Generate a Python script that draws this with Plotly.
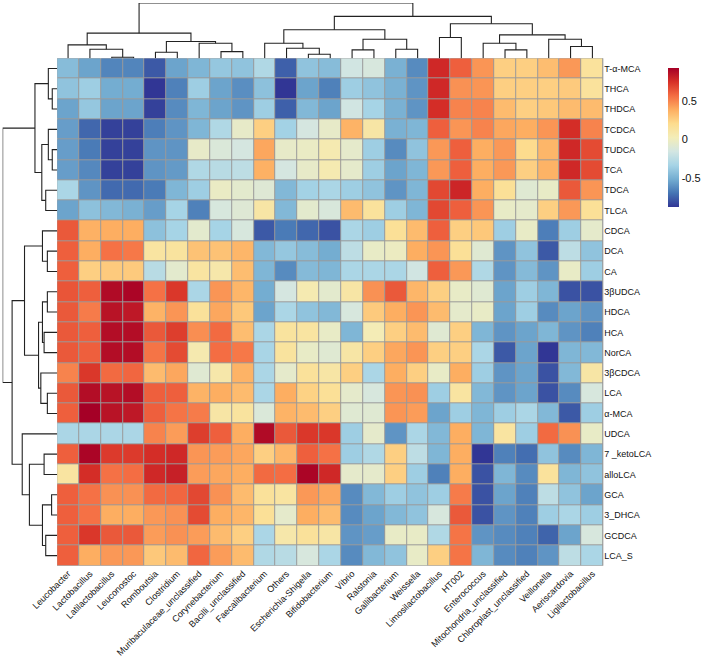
import plotly.graph_objects as go

# ---------------- data ----------------
col_labels = ["Leucobacter", "Lactobacillus", "Latilactobacillus", "Leuconostoc", "Romboutsia",
              "Clostridium", "Muribaculaceae_unclassified", "Corynebacterium", "Bacilli_unclassified",
              "Faecalibacterium", "Others", "Escherichia-Shigella", "Bifidobacterium", "Vibrio",
              "Ralstonia", "Gallibacterium", "Weissella", "Limosilactobacillus", "HT002",
              "Enterococcus", "Mitochondria_unclassified", "Chloroplast_unclassified", "Veillonella",
              "Aeriscardovia", "Ligilactobacillus"]

row_labels = ["T-α-MCA", "THCA", "THDCA", "TCDCA", "TUDCA", "TCA", "TDCA", "TLCA", "CDCA", "DCA",
              "CA", "3βUDCA", "HDCA", "HCA", "NorCA", "3βCDCA", "LCA", "α-MCA", "UDCA",
              "7 _ketoLCA", "alloLCA", "GCA", "3_DHCA", "GCDCA", "LCA_S"]

corr_T_a_MCA = [-0.45, -0.55, -0.65, -0.65, -0.78, -0.55, -0.48, -0.40, -0.42, -0.30, -0.76, -0.42, -0.45, -0.17, -0.14, -0.50, -0.63, 0.77, 0.60, 0.45, 0.25, 0.25, 0.32, 0.44, 0.14]
corr_THCA = [-0.42, -0.37, -0.52, -0.52, -0.88, -0.66, -0.37, -0.55, -0.62, -0.43, -0.88, -0.55, -0.66, -0.37, -0.42, -0.50, -0.60, 0.77, 0.46, 0.45, 0.25, 0.25, 0.25, 0.27, 0.14]
corr_THDCA = [-0.55, -0.40, -0.55, -0.55, -0.85, -0.63, -0.48, -0.55, -0.60, -0.37, -0.76, -0.47, -0.55, -0.17, -0.34, -0.50, -0.60, 0.75, 0.50, 0.50, 0.33, 0.25, 0.28, 0.33, 0.33]
corr_TCDCA = [-0.57, -0.74, -0.85, -0.85, -0.67, -0.60, -0.48, -0.30, -0.05, 0.25, -0.35, -0.15, -0.05, 0.36, 0.10, -0.50, -0.48, 0.60, 0.45, 0.50, 0.40, 0.38, 0.45, 0.75, 0.50]
corr_TUDCA = [-0.57, -0.68, -0.85, -0.85, -0.60, -0.60, -0.05, -0.12, -0.15, 0.40, -0.05, -0.03, 0.05, -0.06, -0.37, -0.63, -0.42, 0.44, 0.60, 0.38, 0.44, 0.20, 0.35, 0.77, 0.66]
corr_TCA = [-0.57, -0.64, -0.85, -0.85, -0.60, -0.58, -0.30, -0.27, -0.25, 0.37, -0.15, -0.05, 0.05, -0.06, -0.37, -0.55, -0.48, 0.44, 0.60, 0.38, 0.44, 0.25, 0.36, 0.77, 0.66]
corr_TDCA = [-0.32, -0.60, -0.73, -0.73, -0.68, -0.48, -0.37, -0.03, -0.07, -0.10, -0.47, -0.35, -0.32, -0.37, -0.42, -0.60, -0.48, 0.67, 0.78, 0.38, 0.16, -0.09, -0.04, 0.62, 0.45]
corr_TLCA = [-0.55, -0.43, -0.47, -0.50, -0.57, -0.34, -0.66, -0.14, -0.10, 0.10, -0.47, -0.07, -0.13, 0.33, 0.14, -0.37, -0.48, 0.67, 0.60, 0.45, -0.04, -0.06, 0.25, 0.44, 0.16]
corr_CDCA = [0.62, 0.37, 0.38, 0.38, -0.43, -0.34, -0.07, -0.34, -0.14, -0.78, -0.68, -0.74, -0.80, -0.32, -0.37, 0.16, 0.33, 0.60, 0.25, 0.28, -0.37, -0.04, -0.67, -0.37, -0.06]
corr_DCA = [0.60, 0.38, 0.55, 0.53, 0.12, 0.13, 0.30, 0.30, 0.35, -0.47, -0.40, -0.45, -0.52, -0.25, -0.04, -0.02, 0.38, 0.45, 0.16, -0.09, -0.60, -0.42, -0.78, -0.25, -0.42]
corr_CA = [0.60, 0.25, 0.27, 0.27, -0.27, -0.07, 0.12, 0.08, 0.32, -0.48, -0.63, -0.46, -0.48, -0.32, -0.32, -0.32, -0.17, 0.60, 0.44, -0.30, -0.60, -0.46, -0.60, -0.04, -0.37]
corr_3bUDCA = [0.63, 0.60, 0.88, 0.90, 0.55, 0.72, -0.32, 0.45, 0.35, -0.52, -0.15, 0.05, -0.07, 0.10, 0.46, 0.62, 0.35, 0.25, -0.04, -0.09, -0.55, -0.37, -0.48, -0.80, -0.80]
corr_HDCA = [0.62, 0.52, 0.85, 0.83, 0.36, 0.45, 0.15, 0.40, 0.28, -0.55, -0.32, -0.42, -0.47, -0.14, 0.27, 0.38, 0.45, 0.33, -0.06, -0.04, -0.55, -0.37, -0.63, -0.55, -0.60]
corr_HCA = [0.62, 0.60, 0.87, 0.87, 0.62, 0.70, 0.47, 0.57, 0.32, -0.32, 0.13, 0.12, -0.04, -0.48, 0.03, 0.25, 0.33, -0.09, 0.25, -0.48, -0.60, -0.55, -0.48, -0.60, -0.66]
corr_NorCA = [0.62, 0.60, 0.87, 0.87, 0.54, 0.66, 0.06, 0.56, 0.53, -0.33, 0.13, -0.04, -0.09, 0.10, 0.25, 0.40, 0.45, 0.25, 0.25, -0.32, -0.78, -0.55, -0.88, -0.48, -0.47]
corr_3bCDCA = [0.50, 0.72, 0.57, 0.58, 0.33, 0.40, -0.09, 0.08, 0.36, -0.32, -0.06, 0.15, 0.10, 0.25, -0.32, 0.38, 0.25, -0.04, 0.38, -0.37, -0.60, -0.55, -0.80, -0.47, 0.10]
corr_LCA = [0.62, 0.87, 0.85, 0.87, 0.60, 0.60, 0.36, 0.38, 0.33, -0.32, 0.38, 0.24, 0.16, -0.06, -0.14, 0.45, 0.46, -0.37, 0.12, -0.47, -0.60, -0.55, -0.80, -0.63, -0.14]
corr_a_MCA = [0.60, 0.92, 0.85, 0.83, 0.60, 0.54, 0.52, 0.10, 0.13, -0.12, 0.36, 0.33, 0.25, -0.09, -0.09, 0.45, 0.43, -0.55, -0.37, -0.48, -0.37, -0.32, -0.47, -0.78, -0.37]
corr_UDCA = [-0.32, -0.32, -0.32, -0.32, 0.50, 0.43, 0.70, 0.60, 0.38, 0.88, 0.62, 0.72, 0.72, -0.37, -0.06, -0.60, -0.32, -0.47, 0.38, -0.48, 0.12, -0.37, 0.57, 0.46, -0.04]
corr_7_ketoLCA = [0.60, 0.90, 0.71, 0.71, 0.75, 0.77, 0.45, 0.43, 0.40, 0.25, 0.35, 0.60, 0.55, -0.37, -0.30, 0.25, -0.25, -0.48, 0.38, -0.88, -0.66, -0.72, -0.42, -0.63, -0.48]
corr_alloLCA = [0.12, 0.75, 0.55, 0.56, 0.77, 0.80, 0.43, 0.40, 0.38, 0.57, 0.56, 0.90, 0.77, -0.06, -0.06, 0.25, -0.37, -0.66, 0.38, -0.80, -0.48, -0.63, 0.14, -0.48, -0.42]
corr_GCA = [0.60, 0.55, 0.46, 0.46, 0.57, 0.58, 0.67, 0.46, 0.33, 0.15, 0.12, 0.44, 0.40, -0.63, -0.47, -0.37, -0.42, -0.37, 0.52, -0.80, -0.55, -0.66, -0.25, -0.42, -0.55]
corr_3_DHCA = [0.60, 0.55, 0.38, 0.38, 0.44, 0.46, 0.66, 0.38, 0.35, 0.16, -0.06, 0.38, 0.33, -0.63, -0.55, -0.47, -0.42, -0.14, 0.62, -0.80, -0.60, -0.66, -0.37, -0.32, -0.37]
corr_GCDCA = [0.60, 0.72, 0.62, 0.62, 0.43, 0.46, 0.43, 0.33, 0.25, -0.32, 0.08, 0.15, 0.10, -0.60, -0.57, -0.04, -0.04, -0.30, 0.54, -0.60, -0.63, -0.66, -0.75, -0.55, -0.14]
corr_LCA_S = [0.60, 0.38, 0.44, 0.44, 0.28, 0.33, 0.58, 0.43, 0.33, -0.30, -0.27, -0.14, -0.32, -0.63, -0.47, -0.42, -0.04, 0.25, 0.54, -0.48, -0.63, -0.66, -0.60, -0.25, -0.32]

values = [corr_T_a_MCA, corr_THCA, corr_THDCA, corr_TCDCA, corr_TUDCA, corr_TCA, corr_TDCA,
          corr_TLCA, corr_CDCA, corr_DCA, corr_CA, corr_3bUDCA, corr_HDCA, corr_HCA, corr_NorCA,
          corr_3bCDCA, corr_LCA, corr_a_MCA, corr_UDCA, corr_7_ketoLCA, corr_alloLCA, corr_GCA,
          corr_3_DHCA, corr_GCDCA, corr_LCA_S]

# hierarchical clustering merges: (child a, child b, height); ids >= n are earlier merges
col_merges = [(2, 3, 3), (1, 25, 27), (0, 26, 40), (4, 5, 18), (7, 8, 20), (6, 29, 45),
              (28, 30, 50), (27, 31, 75), (11, 12, 12), (10, 33, 30), (9, 34, 45), (13, 14, 25),
              (15, 16, 27), (36, 37, 57), (35, 38, 85), (17, 18, 62), (20, 21, 25), (19, 41, 45),
              (23, 24, 35), (22, 43, 57), (42, 44, 70), (40, 45, 103), (39, 46, 125), (32, 47, 165)]

row_merges = [(1, 2, 15), (0, 25, 27), (4, 5, 15), (3, 27, 27), (6, 7, 35), (28, 29, 47),
              (26, 30, 68), (9, 10, 30), (8, 32, 45), (11, 12, 30), (13, 14, 40), (34, 35, 45),
              (16, 17, 30), (15, 37, 50), (36, 38, 57), (33, 39, 100), (19, 20, 40), (21, 22, 17),
              (23, 24, 35), (42, 43, 45), (41, 44, 85), (18, 45, 107), (40, 46, 138), (31, 47, 167)]

colorbar_ticks = [-0.5, 0, 0.5]
z_min, z_max = -0.88, 0.92

palette = ["#313695", "#4575B4", "#74ADD1", "#A6D4E6", "#D3E6E2", "#F3EDB8",
           "#FDDC8E", "#FDAE61", "#F46D43", "#D73027", "#A50026"]


def dendro_lines(merges, n):
    pos = {i: float(i) for i in range(n)}
    hgt = {i: 0.0 for i in range(n)}
    p_list, h_list = [], []
    for k, (a, b, h) in enumerate(merges):
        cid = n + k
        pa, pb = pos[a], pos[b]
        p_list += [pa, pa, pb, pb, None]
        h_list += [hgt[a], h, h, hgt[b], None]
        pos[cid] = (pa + pb) / 2.0
        hgt[cid] = h
    return p_list, h_list, max(hgt.values())


# ---------------- layout geometry (pixels) ----------------
W, H = 708, 661
hm_l, hm_r, hm_t, hm_b = 58.3, 615.5, 58.3, 565.8
rd_l = 2.7
cd_t = 3.0


def px(v):
    return v / W


def py(v):
    return 1 - v / H


ncol, nrow = len(col_labels), len(row_labels)
FONT = "Liberation Sans, Arial, Helvetica, sans-serif"

colorscale = [[i / (len(palette) - 1), c] for i, c in enumerate(palette)]

fig = go.Figure()

fig.add_trace(go.Heatmap(
    z=values, x=list(range(ncol)), y=list(range(nrow)),
    colorscale=colorscale, zmin=z_min, zmax=z_max,
    xgap=1, ygap=1,
    colorbar=dict(
        x=px(671), xanchor="left", y=py(58.3), yanchor="top",
        len=158.5, lenmode="pixels", thickness=11, thicknessmode="pixels",
        outlinewidth=0, ticks="", tickvals=colorbar_ticks,
        ticktext=[str(t) for t in colorbar_ticks],
        tickfont=dict(size=11, color="#111", family=FONT),
    ),
    xaxis="x", yaxis="y",
))

cp, ch, cmax = dendro_lines(col_merges, ncol)
fig.add_trace(go.Scatter(x=cp, y=ch, mode="lines", line=dict(color="#222", width=1.1),
                         xaxis="x2", yaxis="y2", hoverinfo="skip", cliponaxis=False,
                         showlegend=False))

rp, rh, rmax = dendro_lines(row_merges, nrow)
fig.add_trace(go.Scatter(x=rh, y=rp, mode="lines", line=dict(color="#222", width=1.1),
                         xaxis="x3", yaxis="y3", hoverinfo="skip", cliponaxis=False,
                         showlegend=False))

# grey cell borders behind the heatmap gaps
fig.add_shape(type="rect", xref="x", yref="y", x0=-0.5, x1=ncol - 0.5, y0=-0.5, y1=nrow - 0.5,
              fillcolor="#9a9a9a", line=dict(color="#9a9a9a", width=1), layer="below")

hidden = dict(showgrid=False, zeroline=False, showticklabels=False, ticks="", showline=False)

fig.update_layout(
    width=W, height=H, autosize=False,
    margin=dict(l=0, r=0, t=0, b=0),
    paper_bgcolor="white", plot_bgcolor="white",
    font=dict(family=FONT, color="#111"),
    showlegend=False,
    xaxis=dict(domain=[px(hm_l), px(hm_r)], range=[-0.5, ncol - 0.5], tickmode="array",
               tickvals=list(range(ncol)), ticktext=col_labels, tickangle=-45, ticks="",
               showgrid=False, zeroline=False, tickfont=dict(size=9, family=FONT, color="#111"),
               automargin=False, anchor="y"),
    yaxis=dict(domain=[py(hm_b), py(hm_t)], range=[nrow - 0.5, -0.5], tickmode="array",
               tickvals=list(range(nrow)), ticktext=row_labels, side="right", ticks="",
               showgrid=False, zeroline=False, tickfont=dict(size=9, family=FONT, color="#111"),
               automargin=False, anchor="x"),
    xaxis2=dict(domain=[px(hm_l), px(hm_r)], range=[-0.5, ncol - 0.5], anchor="y2", **hidden),
    yaxis2=dict(domain=[py(hm_t), py(cd_t)], range=[0, cmax], anchor="x2", **hidden),
    xaxis3=dict(domain=[px(rd_l), px(hm_l)], range=[rmax, 0], anchor="y3", **hidden),
    yaxis3=dict(domain=[py(hm_b), py(hm_t)], range=[nrow - 0.5, -0.5], anchor="x3", **hidden),
)

fig.write_html("out.html", config={"displayModeBar": False},
               post_script="document.body.style.margin='0px';document.body.style.overflow='hidden';")
